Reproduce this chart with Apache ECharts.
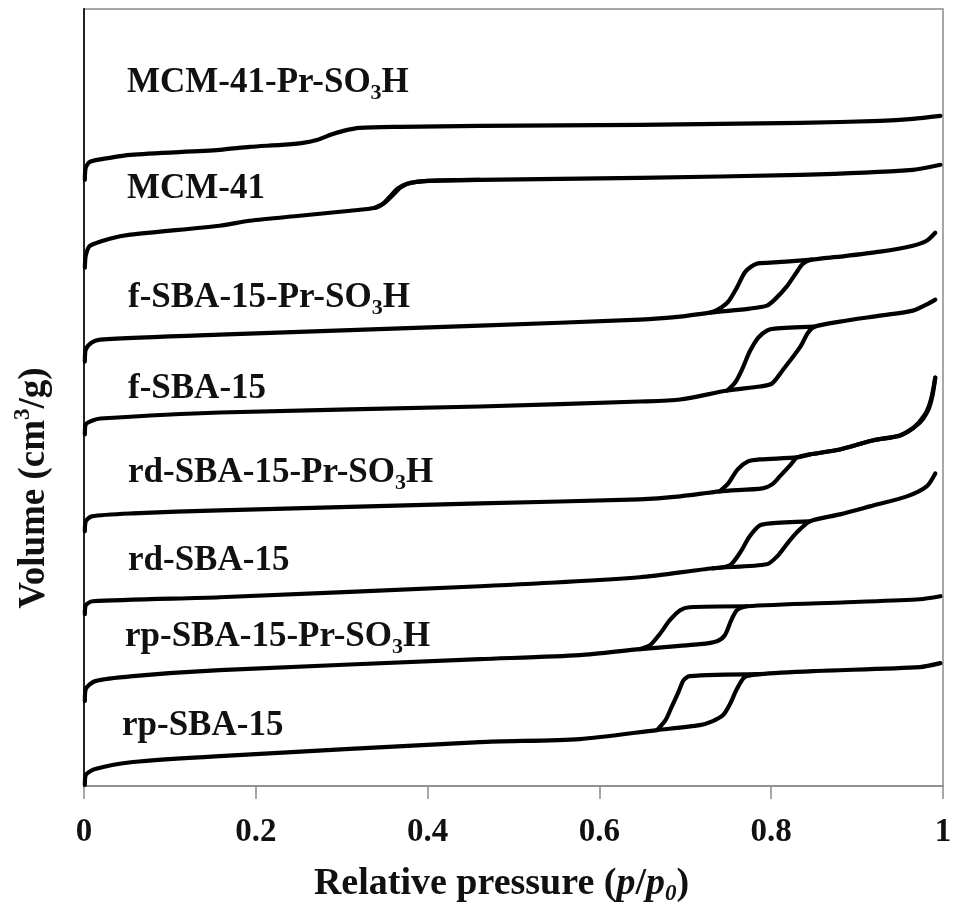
<!DOCTYPE html>
<html><head><meta charset="utf-8">
<script src="https://cdn.jsdelivr.net/npm/echarts@6/dist/echarts.min.js"></script>
<style>html,body{margin:0;padding:0;background:#fff}#c{width:956px;height:911px}</style>
</head><body><div id="c"></div>
<script>
// x: relative pressure p/p0 ; y: adsorbed volume (arbitrary, curves offset for clarity)
const xTicks = [0, 0.2, 0.4, 0.6, 0.8, 1];

const mcmPr_ads = [[0.001,607],[0.002,619],[0.007,625],[0.030,629],[0.054,632],[0.158,637],[0.193,640],[0.230,642],[0.255,644],[0.272,647],[0.287,652],[0.302,656],[0.321,659],[0.368,660],[0.461,661],[0.647,662],[0.834,664],[0.927,666],[0.965,668],[0.997,671]];
const mcmPr_des = [];

const mcm_ads = [[0.001,519],[0.002,531],[0.007,541],[0.030,548],[0.054,552],[0.158,561],[0.193,566],[0.251,571],[0.310,576],[0.339,579],[0.350,584],[0.360,592],[0.368,599],[0.380,604],[0.403,606],[0.461,607],[0.647,609],[0.834,612],[0.965,617],[0.997,622]];
const mcm_des = [[0.461,607],[0.400,606],[0.376,603],[0.365,598],[0.356,590],[0.348,583],[0.339,579]];

const fPr_ads = [[0.001,425],[0.002,437],[0.009,444],[0.019,447],[0.158,452],[0.461,461],[0.647,467],[0.694,470],[0.729,474],[0.775,478],[0.795,481],[0.804,487],[0.818,500],[0.830,515],[0.837,523],[0.847,527],[0.880,530],[0.927,535],[0.965,541],[0.981,546],[0.991,554]];
const fPr_des = [[0.847,527],[0.799,524],[0.783,523],[0.770,515],[0.760,499],[0.750,485],[0.738,477],[0.729,474]];

const f_ads = [[0.001,352],[0.002,362],[0.010,366],[0.019,368],[0.158,374],[0.461,380],[0.647,385],[0.694,387],[0.749,396],[0.787,400],[0.801,403],[0.814,417],[0.834,440],[0.843,454],[0.851,460],[0.880,465],[0.927,471],[0.965,476],[0.983,483],[0.991,487]];
const f_des = [[0.851,460],[0.804,458],[0.795,456],[0.785,449],[0.775,435],[0.766,417],[0.758,404],[0.749,396]];

const rdPr_ads = [[0.001,255],[0.002,265],[0.009,270],[0.057,273],[0.158,276],[0.461,283],[0.647,287],[0.694,290],[0.740,295],[0.790,298],[0.801,302],[0.810,310],[0.822,321],[0.830,329],[0.845,332],[0.880,337],[0.918,346],[0.950,351],[0.965,358],[0.979,372],[0.986,387],[0.991,409]];
const rdPr_des = [[0.991,409],[0.988,392],[0.983,377],[0.972,363],[0.950,351],[0.918,346],[0.880,337],[0.845,332],[0.830,329],[0.787,327],[0.773,325],[0.761,317],[0.750,303],[0.740,295]];

const rd_ads = [[0.001,172],[0.002,181],[0.010,185],[0.158,189],[0.461,200],[0.647,209],[0.732,218],[0.795,222],[0.807,230],[0.818,242],[0.830,254],[0.845,265],[0.880,272],[0.915,280],[0.958,290],[0.981,300],[0.991,313]];
const rd_des = [[0.845,265],[0.799,263],[0.787,261],[0.775,250],[0.764,234],[0.752,221],[0.732,218]];

const rpPr_ads = [[0.001,85],[0.002,97],[0.013,105],[0.057,110],[0.158,116],[0.461,127],[0.577,131],[0.647,137],[0.717,142],[0.737,145],[0.746,151],[0.753,165],[0.760,176],[0.772,180],[0.888,184],[0.973,187],[0.997,190]];
const rpPr_des = [[0.772,180],[0.705,179],[0.694,176],[0.682,166],[0.671,153],[0.659,141],[0.647,137]];

const rp_ads = [[0.001,1],[0.002,11],[0.013,17],[0.057,24],[0.158,30],[0.461,44],[0.577,47],[0.667,56],[0.717,61],[0.732,65],[0.744,71],[0.752,82],[0.760,97],[0.769,109],[0.787,112],[0.849,115],[0.973,119],[0.997,123]];
const rp_des = [[0.787,112],[0.705,110],[0.698,106],[0.692,94],[0.684,79],[0.677,66],[0.667,56]];

const sampleLabels = ['MCM-41-Pr-SO{s|3}H','MCM-41','f-SBA-15-Pr-SO{s|3}H','f-SBA-15','rd-SBA-15-Pr-SO{s|3}H','rd-SBA-15','rp-SBA-15-Pr-SO{s|3}H','rp-SBA-15'];
const branches = [mcmPr_ads, mcmPr_des, mcm_ads, mcm_des, fPr_ads, fPr_des, f_ads, f_des, rdPr_ads, rdPr_des, rd_ads, rd_des, rpPr_ads, rpPr_des, rp_ads, rp_des];

// label placement (screen px)
const labelPos = [[127,83],[127,189],[128,298],[128,389],[128,473],[128,561],[125,637],[122,726]];

const FF = '"Liberation Serif","Times New Roman",serif';
const chart = echarts.init(document.getElementById('c'), null, {renderer:'canvas'});

const series = branches.filter(b => b.length).map(b => ({
  type:'line', data:b, showSymbol:false, smooth:0.25,
  lineStyle:{color:'#000', width:4.2, cap:'round', join:'round'},
  silent:true
}));

const graphic = sampleLabels.map((t,i) => ({
  type:'text', x:labelPos[i][0], y:labelPos[i][1],
  style:{text:t, fontSize:35, fontWeight:'bold', fontFamily:FF, fill:'#111', lineHeight:42,
    align:'left', verticalAlign:'middle',
    rich:{s:{fontSize:22, fontWeight:'bold', fontFamily:FF, fill:'#111', verticalAlign:'bottom', lineHeight:22}}}
}));
graphic.push({
  type:'text', x:34, y:488, rotation:Math.PI/2,
  style:{text:'Volume (cm{p|3}/g)', fontSize:37, fontWeight:'bold', fontFamily:FF, fill:'#111', lineHeight:44,
    align:'center', verticalAlign:'middle',
    rich:{p:{fontSize:23, fontWeight:'bold', fontFamily:FF, fill:'#111', verticalAlign:'top', lineHeight:23}}}
});

chart.setOption({
  animation:false,
  backgroundColor:'#fff',
  grid:{left:84, right:13, top:9, bottom:124, show:true, borderColor:'#8a8a8a', borderWidth:1.5, backgroundColor:'transparent'},
  xAxis:{type:'value', min:xTicks[0], max:xTicks[xTicks.length-1], interval:0.2,
    axisLine:{show:true, lineStyle:{color:'#8a8a8a', width:1.5}},
    axisTick:{show:true, inside:false, length:13, lineStyle:{color:'#8a8a8a', width:1.5}},
    splitLine:{show:false},
    axisLabel:{margin:30, fontSize:33, fontWeight:'bold', fontFamily:FF, color:'#111'},
    name:'Relative pressure ({i|p}/{i|p}{sub|0})', nameLocation:'middle', nameGap:76,
    nameTextStyle:{fontSize:38, fontWeight:'bold', fontFamily:FF, color:'#111', lineHeight:44, padding:[0,24,0,0],
      rich:{i:{fontSize:38, fontWeight:'bold', fontStyle:'italic', fontFamily:FF, color:'#111', lineHeight:44},
            sub:{fontSize:23, fontWeight:'bold', fontStyle:'italic', fontFamily:FF, color:'#111', verticalAlign:'bottom', lineHeight:23}}}
  },
  yAxis:{type:'value', min:0, max:778,
    axisLine:{show:true, lineStyle:{color:'#222', width:2}},
    axisTick:{show:false}, axisLabel:{show:false}, splitLine:{show:false}},
  series:series,
  graphic:graphic
});
</script></body></html>
